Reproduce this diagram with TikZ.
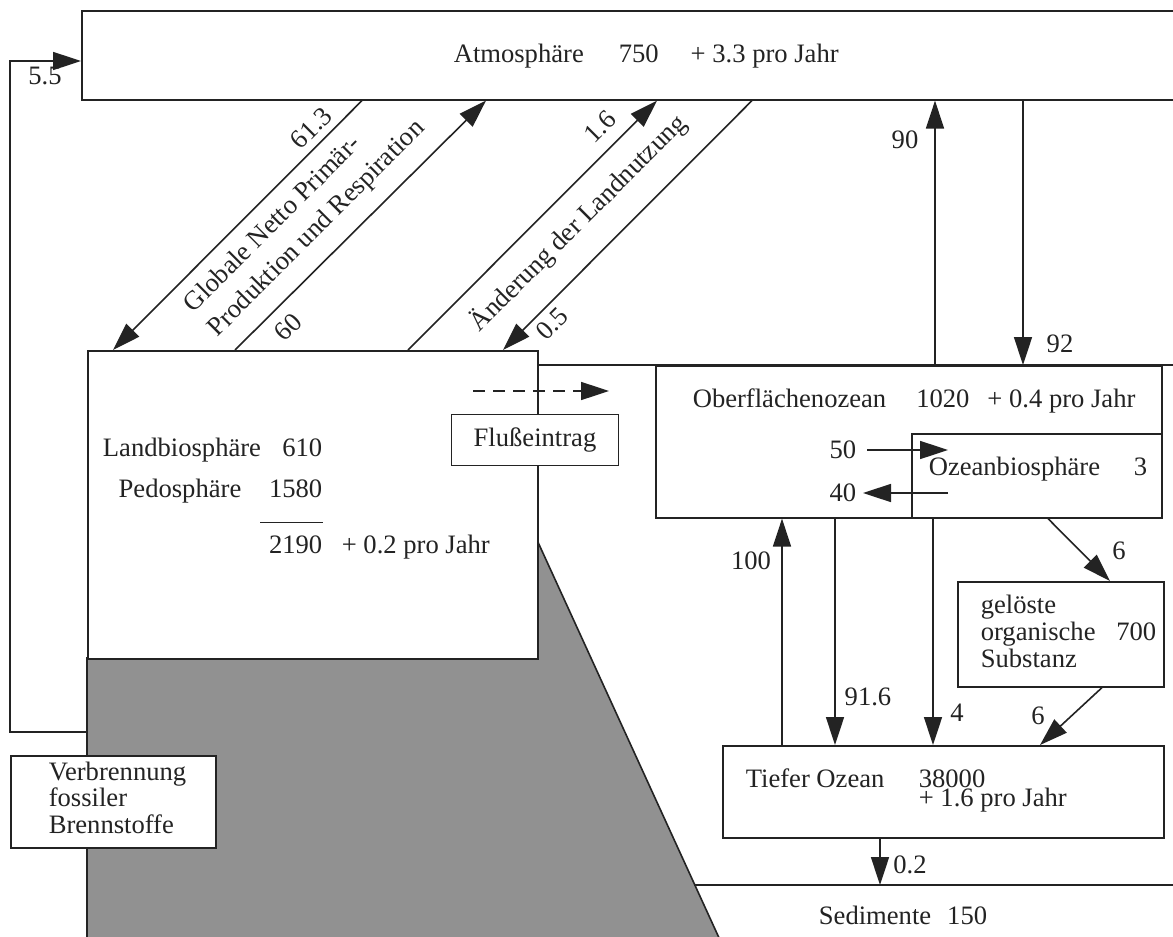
\documentclass[tikz,border=0pt]{standalone}
\usepackage{fontspec}
\setmainfont{Liberation Serif}
\usetikzlibrary{arrows.meta}
\definecolor{ink}{RGB}{35,35,35}
\definecolor{rock}{RGB}{145,145,145}

\begin{document}
\begin{tikzpicture}[x=0.5pt, y=-0.5pt, line width=0.8pt, color=ink,
    box/.style 2 args={draw, fill=white, anchor=north west, inner sep=0pt,
        minimum width=#1*0.5pt, minimum height=#2*0.5pt},
    flow/.style={-{Triangle[length=14pt,width=9pt]}},
    every node/.style={inner sep=0pt, font=\fontsize{13.3}{13.4}\selectfont}
    ]
    \fill[white] (0,0) rectangle (1173,937);
    \useasboundingbox (0,0) rectangle (1173,937);
    \clip (0,0) rectangle (1173,937);

    % grey wedge under the land
    \filldraw[fill=rock] (87,658) -- (87,940) -- (720,940) -- (537,540) -- (537,658) -- cycle;

    % reservoirs
    \node[box={1130}{89}] (atm) at (81,10) {};
    \node[box={450}{308}] (land) at (87,350) {};
    \draw (land.east |- 0,365) -- (1180,365);
    \node[box={506}{152}] (surf) at (655,365) {};
    \node[box={250}{84}] (obio) at (911,433) {};
    \node[box={206}{105}] (doc) at (957,581) {};
    \node[box={441}{92}] (deep) at (722,745) {};
    \node[box={205}{92}] (fossil) at (10,755) {};
    \node[box={167}{51}, anchor=center] (fluss) at (535,440) {Flußeintrag};

    % texts in the reservoirs
    \node[anchor=base west] (atmtxt) at (453,62) {Atmosphäre\hspace{17.5pt}750\hspace{16pt}+ 3.3 pro Jahr};
    \node[anchor=base] (lbio) at (182,456) {Landbiosphäre};
    \node[anchor=base east] (lbion) at (323,456) {610};
    \node[anchor=base] (pedo) at (180,497) {Pedosphäre};
    \node[anchor=base east] (pedon) at (323,497) {1580};
    \node[anchor=base east] (landn) at (323,553) {2190};
    \node[anchor=base west] (landd) at (341,553) {+ 0.2 pro Jahr};
    \draw ([yshift=6pt,xshift=-4pt]landn.north west) -- ([yshift=6pt]landn.north east);
    \node[anchor=base west] (surftxt) at (692,407) {Oberflächenozean\hspace{15pt}1020\hspace{9pt}+ 0.4 pro Jahr};
    \node[anchor=base west] (obiotxt) at (928,475) {Ozeanbiosphäre};
    \node[anchor=base east] (obion) at (1148,475) {3};
    \foreach \t [count=\i from 0] in {gelöste,organische,Substanz}
        \node[anchor=base west] (doc\i) at (980,613+27*\i) {\t};
    \node[anchor=base east] (docn) at (1157,640) {700};
    \node[anchor=base west] (deeptxt) at (745,787) {Tiefer Ozean};
    \node[anchor=base west] (deepn) at (918,787) {38000};
    \node[anchor=base west] (deepd) at (918,806) {+ 1.6 pro Jahr};
    \node (sedtxt) at (903,915) {Sedimente\hspace{8pt}150};
    \foreach \t [count=\i from 0] in {Verbrennung,fossiler,Brennstoffe}
        \node[anchor=base west] (fos\i) at (48,780+26.7*\i) {\t};

    % atmosphere <-> land
    \draw[flow] (atm.south -| 362,0) -- (land.north -| 113,0);
    \draw[flow] (land.north -| 235,0) -- (atm.south -| 486,0);
    \draw[flow] (land.north -| 408,0) -- (atm.south -| 657,0);
    \draw[flow] (atm.south -| 752,0) -- (land.north -| 503,0);
    \node[rotate=45] (l613) at (311,128) {61.3};
    \node[rotate=45] (l60) at (288,327) {60};
    \node[rotate=45, align=left, font=\fontsize{13.3}{17}\selectfont] (lnpp) at (305,217)
        {Globale Netto Primär-\\Produktion und Respiration};
    \node[rotate=45] (l16) at (600,127) {1.6};
    \node[rotate=45] (l05) at (552,324) {0.5};
    \node[rotate=45] (lland) at (578,223) {Änderung der Landnutzung};

    % fossil fuels
    \coordinate (burn) at (87,732);
    \coordinate (turn) at (10,61);
    \draw[flow] (burn) -| (turn) -- (turn -| atm.west);
    \node (l55) at (45,76) {5.5};

    % rivers
    \coordinate (rin) at (473,391);
    \coordinate (rout) at (609,391);
    \draw[flow, dash pattern=on 6pt off 4pt] (rin) -- (rout);

    % atmosphere <-> ocean
    \draw[flow] (surf.north -| 935,0) -- (atm.south -| 935,0);
    \draw[flow] (atm.south -| 1023,0) -- (surf.north -| 1023,0);
    \node (l90) at (905,140) {90};
    \node (l92) at (1060,344) {92};

    % inside the surface ocean
    \node[anchor=east] (l50) at (857,450) {50};
    \node[anchor=east] (l40) at (857,493) {40};
    \draw[flow] ([xshift=5pt]l50.east) -- (l50.east -| 948,0);
    \draw[flow] (l40.east -| 948,0) -- ([xshift=3pt]l40.east);

    % surface <-> deep ocean
    \draw[flow] (deep.north -| 782,0) -- (surf.south -| 782,0);
    \draw[flow] (surf.south -| 835,0) -- (deep.north -| 835,0);
    \draw[flow] (obio.south -| 933,0) -- (deep.north -| 933,0);
    \draw[flow] (obio.south -| 1048,0) -- (doc.north -| 1110,0);
    \draw[flow] (doc.south -| 1102,0) -- (deep.north -| 1040,0);
    \node (l100) at (751,561) {100};
    \node (l916) at (868,697) {91.6};
    \node (l4) at (957,713) {4};
    \node (l6a) at (1119,551) {6};
    \node (l6b) at (1038,716) {6};

    % sediments
    \coordinate (sedl) at (694,885);
    \coordinate (sedr) at (1180,885);
    \draw (sedl) -- (sedr);
    \draw[flow] (deep.south -| 880,0) -- (sedl -| 880,0);
    \node (l02) at (910,865) {0.2};
\end{tikzpicture}
\end{document}
